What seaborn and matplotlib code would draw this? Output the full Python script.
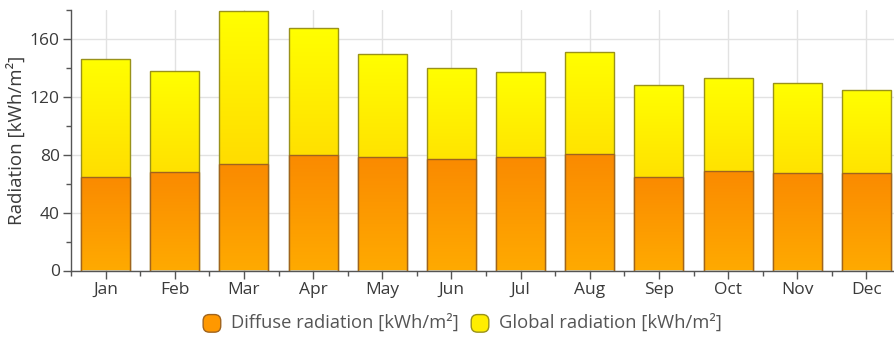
import numpy as np
import matplotlib
matplotlib.use("Agg")
import matplotlib.pyplot as plt
import seaborn as sns
from matplotlib.patches import FancyBboxPatch, Patch
from matplotlib.legend_handler import HandlerPatch
from matplotlib.colors import LinearSegmentedColormap
from matplotlib.ticker import MultipleLocator, FixedLocator

months = ["Jan", "Feb", "Mar", "Apr", "May", "Jun", "Jul", "Aug", "Sep", "Oct", "Nov", "Dec"]
global_rad = [145.9, 137.8, 179.2, 167.7, 149.8, 139.9, 137.1, 150.9, 128.4, 133.2, 129.3, 125.0]
diffuse_rad = [64.3, 68.1, 73.9, 79.7, 78.1, 76.7, 78.5, 80.3, 64.7, 68.8, 67.2, 67.2]
yticks = [0, 40, 80, 120, 160]

sns.set_theme(style="white")
plt.rcParams["font.family"] = ["Open Sans", "DejaVu Sans"]
text_color = "#3a3a3a"
legend_color = "#555555"

fig = plt.figure(figsize=(8.94, 3.42), dpi=100)
ax = fig.add_axes([71 / 894, (342 - 270.5) / 342, 830 / 894, 260.5 / 342])

yel_edge = "#99921a"
org_edge = "#a0641e"

sns.barplot(x=months, y=global_rad, color="#ffee00", saturation=1, width=0.71,
            edgecolor=yel_edge, linewidth=1.0, ax=ax)
n_glob = len(ax.patches)
sns.barplot(x=months, y=diffuse_rad, color="#ff9800", saturation=1, width=0.71,
            edgecolor=org_edge, linewidth=1.0, ax=ax)
patches = list(ax.patches)

cmap_y = LinearSegmentedColormap.from_list("y", ["#ffc400", "#ffff00"])
cmap_o = LinearSegmentedColormap.from_list("o", ["#ffaa00", "#fa8a00"])
grad = np.linspace(0, 1, 256).reshape(-1, 1)

for i, p in enumerate(patches):
    x0 = p.get_x(); w = p.get_width(); h = p.get_height(); y0 = p.get_y()
    is_glob = i < n_glob
    cmap = cmap_y if is_glob else cmap_o
    zb = 2.5 if is_glob else 3.5
    im = ax.imshow(grad, cmap=cmap, origin="lower", aspect="auto",
                   extent=[x0, x0 + w, y0, y0 + h], zorder=zb, interpolation="bilinear")
    im.set_clip_path(p)
    p.set_facecolor("none")
    p.set_zorder(zb + 0.2)

ax.set_xlim(-0.5, 11.5)
ax.set_ylim(0, 180)
ax.set_yticks(yticks)
ax.yaxis.set_minor_locator(MultipleLocator(20))
ax.xaxis.set_minor_locator(FixedLocator(np.arange(-0.5, 12, 1)))
ax.set_axisbelow(True)
ax.grid(True, which="major", color="#e2e2e2", linewidth=1.0)

for s in ["top", "right"]:
    ax.spines[s].set_visible(False)
for s in ["left", "bottom"]:
    ax.spines[s].set_color("#555555")
    ax.spines[s].set_linewidth(1.0)

ax.tick_params(axis="both", which="major", direction="out", length=6, width=1,
               color="#555555", labelsize=12.5, labelcolor=text_color, bottom=True, left=True, pad=2)
ax.tick_params(axis="both", which="minor", direction="out", length=3.5, width=1,
               color="#555555", bottom=True, left=True)
ax.set_xlabel("")
ax.set_ylabel("Radiation [kWh/m²]", fontsize=13.5, color=text_color, labelpad=3)


class RoundHandler(HandlerPatch):
    def create_artists(self, legend, orig_handle, xdescent, ydescent, width, height, fontsize, trans):
        size = min(width, height) * 1.0
        p = FancyBboxPatch((-xdescent + (width - size) / 2, -ydescent + (height - size) / 2 - 1.5),
                           size, size, boxstyle="round,pad=0,rounding_size=4.5",
                           facecolor=orig_handle.get_facecolor(), edgecolor=orig_handle.get_edgecolor(),
                           linewidth=1.0, transform=trans)
        return [p]


handles = [Patch(facecolor="#ff9800", edgecolor=org_edge),
           Patch(facecolor="#ffee00", edgecolor=yel_edge)]
labels = ["Diffuse radiation [kWh/m²]", "Global radiation [kWh/m²]"]
leg = fig.legend(handles, labels, loc="center", bbox_to_anchor=(462 / 894, 1 - 322 / 342),
                 ncol=2, frameon=False, fontsize=13.2, handlelength=1.1, handleheight=1.1,
                 handletextpad=0.5, columnspacing=0.6,
                 handler_map={Patch: RoundHandler()})
for t in leg.get_texts():
    t.set_color(legend_color)

fig.savefig("out.png", dpi=100)
